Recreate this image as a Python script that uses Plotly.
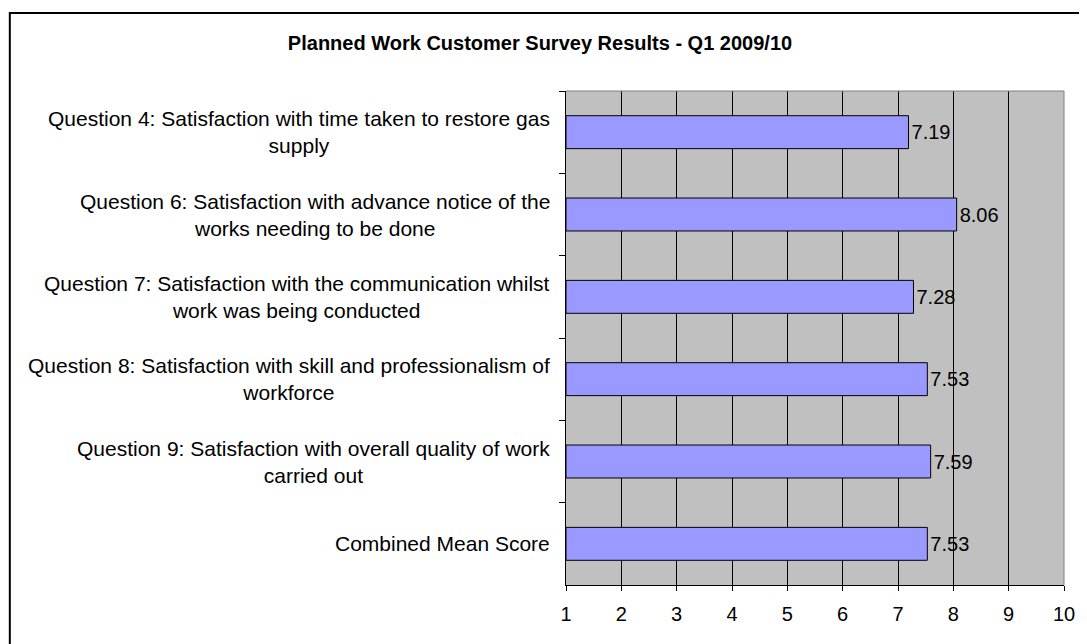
import plotly.graph_objects as go

categories = [
    "Question 4: Satisfaction with time taken to restore gas<br>supply",
    "Question 6: Satisfaction with advance notice of the<br>works needing to be done",
    "Question 7: Satisfaction with the communication whilst<br>work was being conducted",
    "Question 8: Satisfaction with skill and professionalism of<br>workforce",
    "Question 9: Satisfaction with overall quality of work<br>carried out",
    "Combined Mean Score",
]
scores = [7.19, 8.06, 7.28, 7.53, 7.59, 7.53]
x_ticks = [1, 2, 3, 4, 5, 6, 7, 8, 9, 10]
title_text = "Planned Work Customer Survey Results - Q1 2009/10"

# page offset of the plot div (browser default body margin)
OFF = 8
W, H = 1087 - OFF, 644 - OFF
# target plot area in page pixels: x 566..1071, y 91..585
ML, MR, MT, MB = 566 - OFF, 16, 91 - OFF, 59
PW, PH = W - ML - MR, H - MT - MB

FONT = "Liberation Sans, Arial, sans-serif"
FS = 20
FS_LAB = 21

axis_min = x_ticks[0]

fig = go.Figure()
fig.add_trace(go.Bar(
    y=categories,
    x=[v - axis_min for v in scores],
    base=axis_min,
    orientation="h",
    width=0.4,
    marker=dict(color="#9999FF", line=dict(color="#000000", width=1)),
    text=[f"{v:.2f}" for v in scores],
    textposition="outside",
    textfont=dict(family=FONT, size=FS, color="#000000"),
    cliponaxis=False,
    hoverinfo="skip",
))

annotations = []
for c in categories:
    annotations.append(dict(
        x=0, xref="paper", y=c, yref="y",
        text=c, showarrow=False, xanchor="right", yanchor="middle",
        align="center", xshift=-14,
        font=dict(family=FONT, size=FS_LAB, color="#000000"),
    ))

def px_to_paper_x(px):
    # px is page pixel
    return (px - (ML + OFF)) / PW

def px_to_paper_y(py):
    return 1 - (py - (MT + OFF)) / PH

shapes = [
    # outer chart border (cropped on right and bottom)
    dict(type="rect", xref="paper", yref="paper",
         x0=px_to_paper_x(2), x1=px_to_paper_x(1110),
         y0=px_to_paper_y(670), y1=px_to_paper_y(13),
         line=dict(color="#000000", width=2), layer="below"),
    # plot area gray border on top and right
    dict(type="path", xref="paper", yref="paper",
         path="M 0 1 L 1 1 L 1 0",
         line=dict(color="#808080", width=1), layer="above"),
]

fig.update_layout(
    width=W, height=H,
    margin=dict(l=ML, r=MR, t=MT, b=MB, pad=0),
    paper_bgcolor="#FFFFFF",
    plot_bgcolor="#C0C0C0",
    showlegend=False,
    title=dict(text="<b>" + title_text + "</b>", x=(540 - OFF) / W, xref="container",
               xanchor="center", y=1 - (43 - OFF) / H, yref="container", yanchor="middle",
               font=dict(family=FONT, size=FS, color="#000000")),
    xaxis=dict(
        range=[x_ticks[0], x_ticks[-1]],
        tickmode="array",
        tickvals=x_ticks,
        ticktext=[str(t) for t in x_ticks],
        showgrid=True, gridcolor="#000000", gridwidth=1,
        zeroline=False,
        showline=True, linecolor="#000000", linewidth=1,
        ticks="outside", ticklen=5, tickcolor="#000000", tickwidth=1,
        tickfont=dict(family=FONT, size=FS, color="#000000"),
        ticklabelstandoff=6,
        fixedrange=True,
    ),
    yaxis=dict(
        type="category",
        categoryorder="array", categoryarray=categories,
        autorange="reversed",
        showticklabels=False,
        showgrid=False, zeroline=False,
        showline=True, linecolor="#000000", linewidth=1,
        ticks="outside", tickson="boundaries", ticklen=6,
        tickcolor="#000000", tickwidth=1,
        fixedrange=True,
    ),
    annotations=annotations,
    shapes=shapes,
)

fig.write_html("out.html")
